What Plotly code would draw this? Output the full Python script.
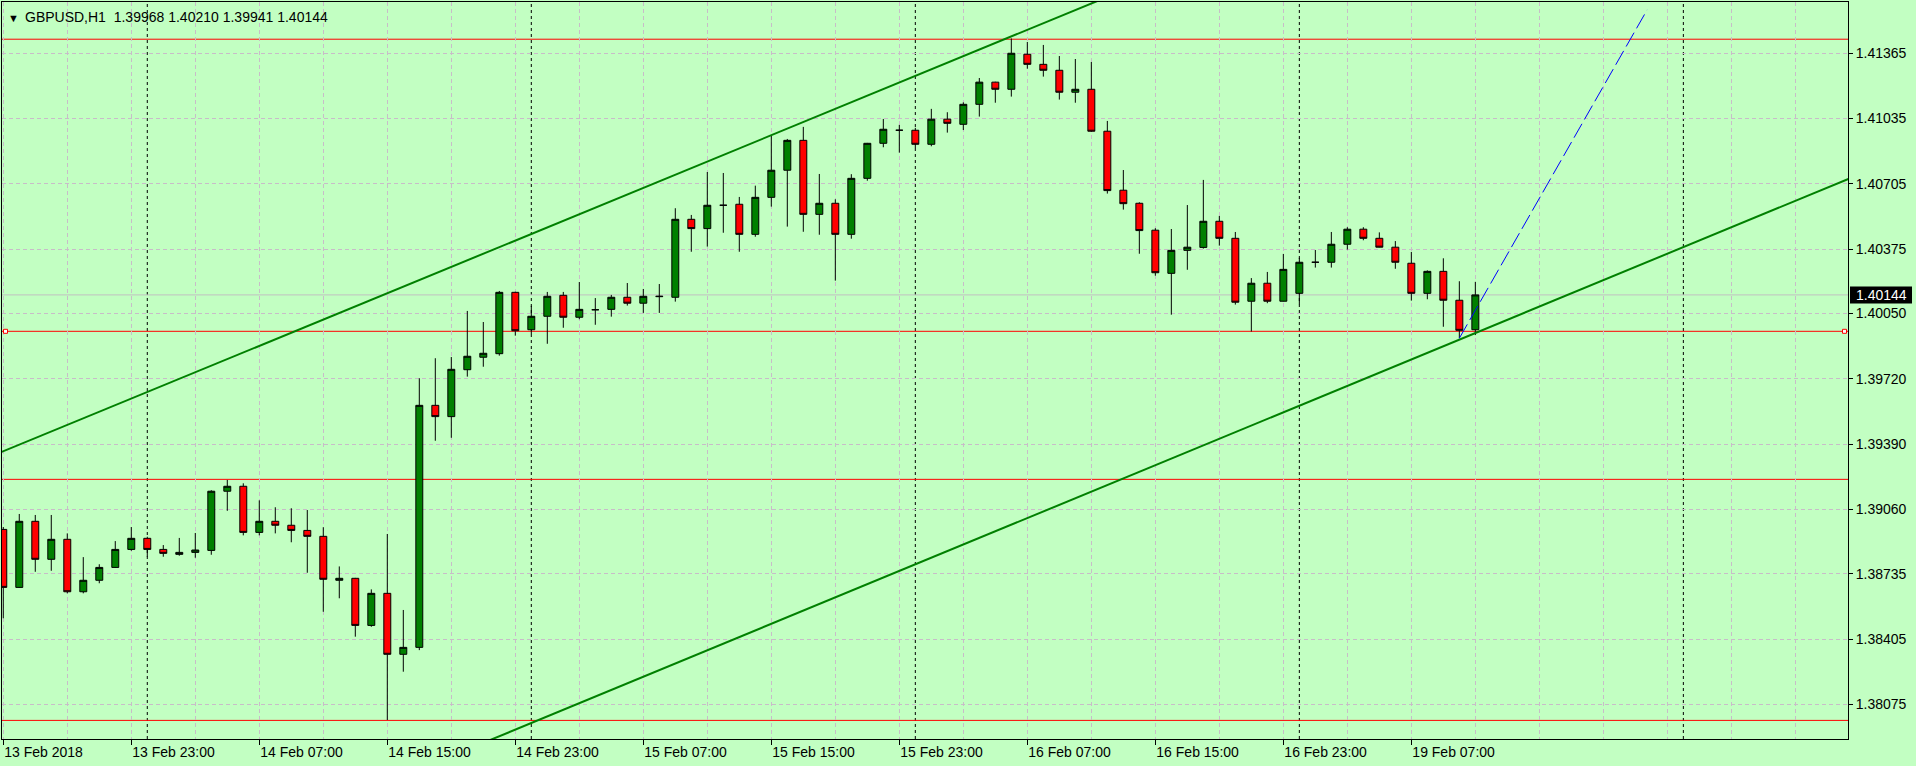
import plotly.graph_objects as go
import pandas as pd

# ---------------- data ----------------
symbol = "GBPUSD,H1"

# trading hours shown (weekend 17-18 Feb has no bars)
sessions = [("2018-02-13", 15, 23), ("2018-02-14", 0, 23), ("2018-02-15", 0, 23),
            ("2018-02-16", 0, 23), ("2018-02-19", 0, 11)]
times = []
for day, h0, h1 in sessions:
    for h in range(h0, h1 + 1):
        times.append(f"{day} {h:02d}:00")

opens = [1.38959, 1.38666, 1.39000, 1.38808, 1.38909, 1.38644, 1.38702, 1.38767, 1.38858, 1.38914,
         1.38858, 1.38833, 1.38843, 1.38853, 1.39152, 1.39177, 1.38944, 1.39000, 1.38980, 1.38954,
         1.38924, 1.38702, 1.38712, 1.38474, 1.38636, 1.38328, 1.38363, 1.39586, 1.39529, 1.39766,
         1.39829, 1.39847, 1.40157, 1.39968, 1.40036, 1.40142, 1.40031, 1.40069, 1.40071, 1.40132,
         1.40102, 1.40135, 1.40132, 1.40526, 1.40479, 1.40597, 1.40602, 1.40450, 1.40637, 1.40774,
         1.40925, 1.40551, 1.40607, 1.40450, 1.40733, 1.40910, 1.40976, 1.40976, 1.40905, 1.41032,
         1.41006, 1.41107, 1.41219, 1.41183, 1.41360, 1.41309, 1.41279, 1.41168, 1.41183, 1.40971,
         1.40673, 1.40607, 1.40471, 1.40253, 1.40369, 1.40384, 1.40516, 1.40430, 1.40112, 1.40203,
         1.40112, 1.40152, 1.40309, 1.40309, 1.40400, 1.40476, 1.40430, 1.40385, 1.40304, 1.40152,
         1.40263, 1.40117, 1.39968]
highs = [1.38971, 1.39037, 1.39032, 1.39032, 1.38939, 1.38819, 1.38783, 1.38900, 1.38971, 1.38922,
         1.38880, 1.38916, 1.38941, 1.39157, 1.39209, 1.39192, 1.39106, 1.39071, 1.39066, 1.39057,
         1.38970, 1.38772, 1.38714, 1.38656, 1.38936, 1.38552, 1.39723, 1.39824, 1.39830, 1.40063,
         1.40007, 1.40164, 1.40160, 1.40088, 1.40159, 1.40159, 1.40209, 1.40128, 1.40144, 1.40204,
         1.40174, 1.40199, 1.40582, 1.40548, 1.40765, 1.40760, 1.40639, 1.40696, 1.40947, 1.40932,
         1.40993, 1.40755, 1.40627, 1.40754, 1.40912, 1.41033, 1.41003, 1.40988, 1.41084, 1.41067,
         1.41117, 1.41240, 1.41221, 1.41440, 1.41422, 1.41407, 1.41351, 1.41336, 1.41321, 1.41023,
         1.40775, 1.40612, 1.40481, 1.40477, 1.40598, 1.40725, 1.40543, 1.40462, 1.40229, 1.40260,
         1.40351, 1.40331, 1.40371, 1.40462, 1.40486, 1.40486, 1.40460, 1.40416, 1.40361, 1.40268,
         1.40329, 1.40213, 1.40210]
lows = [1.38510, 1.38664, 1.38745, 1.38750, 1.38636, 1.38636, 1.38687, 1.38765, 1.38851, 1.38821,
        1.38821, 1.38826, 1.38816, 1.38831, 1.39053, 1.38929, 1.38929, 1.38939, 1.38894, 1.38740,
        1.38543, 1.38611, 1.38417, 1.38467, 1.37996, 1.38240, 1.38349, 1.39407, 1.39422, 1.39731,
        1.39781, 1.39837, 1.39938, 1.39946, 1.39897, 1.39978, 1.40021, 1.39993, 1.40034, 1.40090,
        1.40053, 1.40053, 1.40110, 1.40362, 1.40388, 1.40458, 1.40362, 1.40438, 1.40590, 1.40489,
        1.40463, 1.40448, 1.40216, 1.40428, 1.40721, 1.40890, 1.40863, 1.40886, 1.40895, 1.40964,
        1.40977, 1.41045, 1.41115, 1.41146, 1.41287, 1.41247, 1.41131, 1.41115, 1.40968, 1.40656,
        1.40575, 1.40352, 1.40241, 1.40044, 1.40271, 1.40378, 1.40393, 1.40095, 1.39959, 1.40102,
        1.40111, 1.40097, 1.40282, 1.40282, 1.40373, 1.40420, 1.40384, 1.40276, 1.40115, 1.40122,
        1.39983, 1.39925, 1.39941]
closes = [1.38666, 1.39000, 1.38808, 1.38909, 1.38644, 1.38702, 1.38767, 1.38858, 1.38914, 1.38858,
          1.38838, 1.38843, 1.38855, 1.39152, 1.39177, 1.38944, 1.39000, 1.38980, 1.38954, 1.38924,
          1.38707, 1.38712, 1.38474, 1.38636, 1.38328, 1.38363, 1.39586, 1.39529, 1.39768, 1.39834,
          1.39849, 1.40157, 1.39963, 1.40036, 1.40137, 1.40031, 1.40071, 1.40069, 1.40132, 1.40102,
          1.40137, 1.40137, 1.40526, 1.40479, 1.40597, 1.40597, 1.40450, 1.40637, 1.40774, 1.40925,
          1.40551, 1.40607, 1.40450, 1.40733, 1.40910, 1.40981, 1.40976, 1.40905, 1.41032, 1.41011,
          1.41107, 1.41219, 1.41183, 1.41365, 1.41309, 1.41279, 1.41168, 1.41183, 1.40971, 1.40671,
          1.40605, 1.40469, 1.40256, 1.40369, 1.40385, 1.40516, 1.40430, 1.40107, 1.40203, 1.40112,
          1.40273, 1.40309, 1.40309, 1.40400, 1.40476, 1.40430, 1.40385, 1.40309, 1.40152, 1.40263,
          1.40117, 1.39965, 1.40144]

x_tick_times = ["2018-02-13 15:00", "2018-02-13 23:00", "2018-02-14 07:00", "2018-02-14 15:00",
                "2018-02-14 23:00", "2018-02-15 07:00", "2018-02-15 15:00", "2018-02-15 23:00",
                "2018-02-16 07:00", "2018-02-16 15:00", "2018-02-16 23:00", "2018-02-19 07:00"]
x_tick_labels = ["13 Feb 2018", "13 Feb 23:00", "14 Feb 07:00", "14 Feb 15:00", "14 Feb 23:00",
                 "15 Feb 07:00", "15 Feb 15:00", "15 Feb 23:00", "16 Feb 07:00", "16 Feb 15:00",
                 "16 Feb 23:00", "19 Feb 07:00"]
y_tick_values = [1.38075, 1.38405, 1.38735, 1.39060, 1.39390, 1.39720,
                 1.40050, 1.40375, 1.40705, 1.41035, 1.41365]

red_levels = [1.41436, 1.39960, 1.39212, 1.37994]
marked_level = 1.39960
channel_upper = [("2018-02-13 15:00", 1.39354), ("2018-02-16 06:00", 1.41450)]
channel_lower = [("2018-02-14 22:00", 1.37914), ("2018-02-19 10:00", 1.39918)]
projection = [("2018-02-19 10:00", 1.39925), ("2018-02-19 21:44", 1.41584)]
future_day_start = "2018-02-20 00:00"

# ---------------- styles ----------------
BG = "#C2FFC2"
GRID = "#C8BCC8"
GREEN = "#008000"
RED = "#FF0000"
FONT = "Liberation Sans"
X_VIEW = [-0.08, 115.29]
Y_VIEW = [1.37900, 1.41624]

t_index = {t: i for i, t in enumerate(times)}
last_t = pd.Timestamp(times[-1])


def to_x(t):
    if t in t_index:
        return t_index[t]
    return len(times) - 1 + (pd.Timestamp(t) - last_t) / pd.Timedelta(hours=1)


xs = list(range(len(times)))
fig = go.Figure()

fig.add_trace(go.Candlestick(
    x=xs, open=opens, high=highs, low=lows, close=closes,
    increasing=dict(fillcolor=GREEN, line=dict(color="black", width=1)),
    decreasing=dict(fillcolor=RED, line=dict(color="black", width=1)),
    whiskerwidth=0, showlegend=False, hoverinfo="skip"))


def extended(anchors):
    (ta, pa), (tb, pb) = anchors
    xa, xb = to_x(ta), to_x(tb)
    k = (pb - pa) / (xb - xa)
    x0, x1 = X_VIEW[0] - 1, X_VIEW[1] + 1
    return [x0, x1], [pa + k * (x0 - xa), pa + k * (x1 - xa)]


for anchors in (channel_upper, channel_lower):
    lx, ly = extended(anchors)
    fig.add_trace(go.Scatter(x=lx, y=ly, mode="lines", line=dict(color=GREEN, width=2),
                             showlegend=False, hoverinfo="skip"))

fig.add_trace(go.Scatter(x=[to_x(projection[0][0]), to_x(projection[1][0])],
                         y=[projection[0][1], projection[1][1]], mode="lines",
                         line=dict(color="#0000FF", width=1, dash="16px,5px"),
                         showlegend=False, hoverinfo="skip"))

shapes = []
# day separators
seps = [i for i in range(1, len(times)) if times[i][:10] != times[i - 1][:10]]
seps.append(to_x(future_day_start))
for s in seps:
    shapes.append(dict(type="line", xref="x", yref="paper", x0=s, x1=s, y0=0, y1=1,
                       line=dict(color="black", width=1, dash="3px,3px"), layer="between"))
# horizontal levels
for lv in red_levels:
    shapes.append(dict(type="line", xref="paper", yref="y", x0=0, x1=1, y0=lv, y1=lv,
                       line=dict(color=RED, width=1), layer="between"))
# bid line
shapes.append(dict(type="line", xref="paper", yref="y", x0=0, x1=1, y0=closes[-1], y1=closes[-1],
                   line=dict(color="#C0C0C0", width=1), layer="between"))
# small squares at ends of marked level
for anchor, a, b in ((0, 1.5, 5.5), (1, -5.5, -1.5)):
    shapes.append(dict(type="rect", xref="paper", yref="y", xsizemode="pixel", ysizemode="pixel",
                       xanchor=anchor, yanchor=marked_level, x0=a, x1=b, y0=-2, y1=2,
                       fillcolor="white", line=dict(color=RED, width=1), layer="above"))
# price box on axis
shapes.append(dict(type="rect", xref="paper", yref="y", xsizemode="pixel", ysizemode="pixel",
                   xanchor=1, yanchor=closes[-1], x0=2, x1=64, y0=-8.5, y1=8.5,
                   fillcolor="black", line=dict(width=0), layer="above"))

annotations = [
    dict(xref="paper", yref="paper", x=0, y=1, xanchor="left", yanchor="top", xshift=4, yshift=-8,
         text="▼", showarrow=False, font=dict(size=11, color="black", family=FONT)),
    dict(xref="paper", yref="paper", x=0, y=1, xanchor="left", yanchor="top", xshift=21, yshift=-5,
         text=f"{symbol}  {opens[-1]:.5f} {highs[-1]:.5f} {lows[-1]:.5f} {closes[-1]:.5f}",
         showarrow=False, font=dict(size=14, color="black", family=FONT)),
    dict(xref="paper", yref="y", x=1, y=closes[-1], xanchor="left", yanchor="middle", xshift=6,
         text=f"{closes[-1]:.5f}", showarrow=False, font=dict(size=14, color="white", family=FONT)),
]

fig.update_layout(
    width=1916, height=766,
    margin=dict(l=2, r=68, t=2, b=27),
    paper_bgcolor=BG, plot_bgcolor=BG, showlegend=False, boxgap=0.38,
    font=dict(family=FONT, size=14, color="black"),
    shapes=shapes, annotations=annotations,
    xaxis=dict(range=X_VIEW, tickmode="array", tickvals=[to_x(t) for t in x_tick_times],
               ticktext=x_tick_labels, ticks="outside", ticklen=5, tickcolor="black",
               ticklabelposition="outside right",
               showline=True, linecolor="black", linewidth=1, mirror=True,
               showgrid=True, gridcolor=GRID, griddash="4px,3px", gridwidth=1, zeroline=False,
               rangeslider=dict(visible=False),
               minor=dict(tickmode="linear", tick0=0, dtick=4, showgrid=True, gridcolor=GRID,
                          griddash="4px,3px", gridwidth=1)),
    yaxis=dict(side="right", range=Y_VIEW, tickmode="array", tickvals=y_tick_values,
               tickformat=".5f", ticks="outside", ticklen=4, tickcolor="black",
               showline=True, linecolor="black", linewidth=1, mirror=True,
               showgrid=True, gridcolor=GRID, griddash="4px,3px", gridwidth=1, zeroline=False),
)

fig.write_html("out.html", config={"displayModeBar": False},
               post_script="document.body.style.margin='0';document.body.style.overflow='hidden';")
